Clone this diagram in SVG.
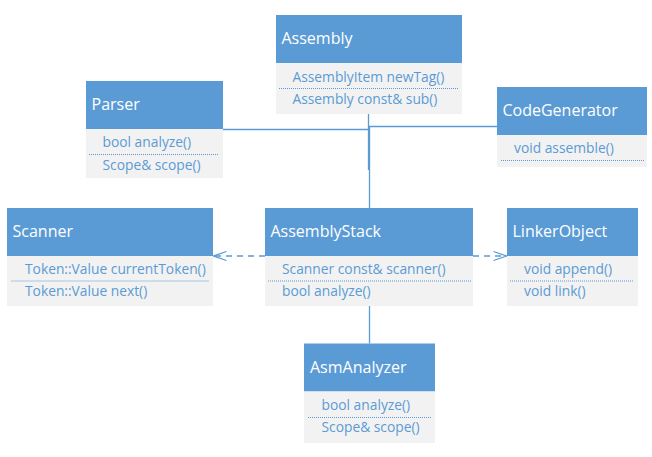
<svg xmlns="http://www.w3.org/2000/svg" width="652" height="457" viewBox="0 0 652 457">
<style>
.hd{fill:#5B9BD5}
.bd{fill:#F2F2F2}
.tt{font-family:"Open Sans","Noto Sans",sans-serif;font-size:16px;fill:#FFFFFF}
.mt{font-family:"Open Sans","Noto Sans",sans-serif;font-size:13.8px;fill:#5B9BD5}
.sp{stroke:#5B9BD5;stroke-width:1;stroke-dasharray:1 1;fill:none}
.cn{stroke:#5B9BD5;stroke-width:1.3;fill:none}
.ds{stroke-dasharray:6 5}
</style>
<defs>
<marker id="arr" viewBox="-14 -6 16 12" refX="0" refY="0" markerWidth="16" markerHeight="12" markerUnits="userSpaceOnUse" orient="auto">
<path d="M-13,-4.5 L0,0 L-13,4.5" fill="none" stroke="#5B9BD5" stroke-width="1.3"/>
</marker>
</defs>
<rect width="652" height="457" fill="#FFFFFF"/>
<g id="connectors">
<path class="cn" d="M368.5 114 V170"/>
<path class="cn" d="M223 129.5 H368.5"/>
<path class="cn" d="M497 126.5 H369.5 V208"/>
<path class="cn" d="M369.5 306 V343.5"/>
<path class="cn ds" d="M265 256 H213.5" marker-end="url(#arr)"/>
<path class="cn ds" d="M473 256 H506.5" marker-end="url(#arr)"/>
</g>
<g id="Assembly">
<rect class="hd" x="276" y="15" width="186" height="48"/>
<rect class="bd" x="276" y="63" width="186" height="51"/>
<text class="tt" x="281.5" y="44">Assembly</text>
<text class="mt" x="292.5" y="82">AssemblyItem newTag()</text>
<line class="sp" x1="279" y1="88.5" x2="458" y2="88.5"/>
<text class="mt" x="292.5" y="103.5">Assembly const&amp; sub()</text>
</g>
<g id="Parser">
<rect class="hd" x="86" y="81" width="137" height="48"/>
<rect class="bd" x="86" y="129" width="137" height="49"/>
<text class="tt" x="91.5" y="110">Parser</text>
<text class="mt" x="102.5" y="147">bool analyze()</text>
<line class="sp" x1="89" y1="154.5" x2="219" y2="154.5"/>
<text class="mt" x="102.5" y="169.5">Scope&amp; scope()</text>
</g>
<g id="CodeGenerator">
<rect class="hd" x="497" y="87" width="150" height="48"/>
<rect class="bd" x="497" y="135" width="150" height="32"/>
<text class="tt" x="502.5" y="116">CodeGenerator</text>
<text class="mt" x="514" y="153">void assemble()</text>
<line class="sp" x1="501" y1="160.5" x2="644" y2="160.5"/>
</g>
<g id="Scanner">
<rect class="hd" x="7" y="208" width="206" height="48"/>
<rect class="bd" x="7" y="256" width="206" height="50"/>
<text class="tt" x="12.5" y="237">Scanner</text>
<text class="mt" x="25" y="274">Token::Value currentToken()</text>
<line class="sp" x1="11.5" y1="281" x2="208.5" y2="281"/>
<text class="mt" x="25" y="296">Token::Value next()</text>
</g>
<g id="AssemblyStack">
<rect class="hd" x="265" y="208" width="208" height="48"/>
<rect class="bd" x="265" y="256" width="208" height="50"/>
<text class="tt" x="270.5" y="236.5">AssemblyStack</text>
<text class="mt" x="282" y="274">Scanner const&amp; scanner()</text>
<line class="sp" x1="268" y1="281" x2="471" y2="281"/>
<text class="mt" x="282" y="296">bool analyze()</text>
</g>
<g id="LinkerObject">
<rect class="hd" x="507" y="208" width="131" height="48"/>
<rect class="bd" x="507" y="256" width="131" height="50"/>
<text class="tt" x="512.5" y="236.5">LinkerObject</text>
<text class="mt" x="524" y="274">void append()</text>
<line class="sp" x1="510" y1="281" x2="633" y2="281"/>
<text class="mt" x="524" y="296">void link()</text>
</g>
<g id="AsmAnalyzer">
<rect class="hd" x="304" y="343.5" width="131" height="48"/>
<rect class="bd" x="304" y="391.5" width="131" height="51.5"/>
<text class="tt" x="310" y="372.5">AsmAnalyzer</text>
<text class="mt" x="321.5" y="410">bool analyze()</text>
<line class="sp" x1="308" y1="417.5" x2="431" y2="417.5"/>
<text class="mt" x="321.5" y="432">Scope&amp; scope()</text>
</g>
</svg>
